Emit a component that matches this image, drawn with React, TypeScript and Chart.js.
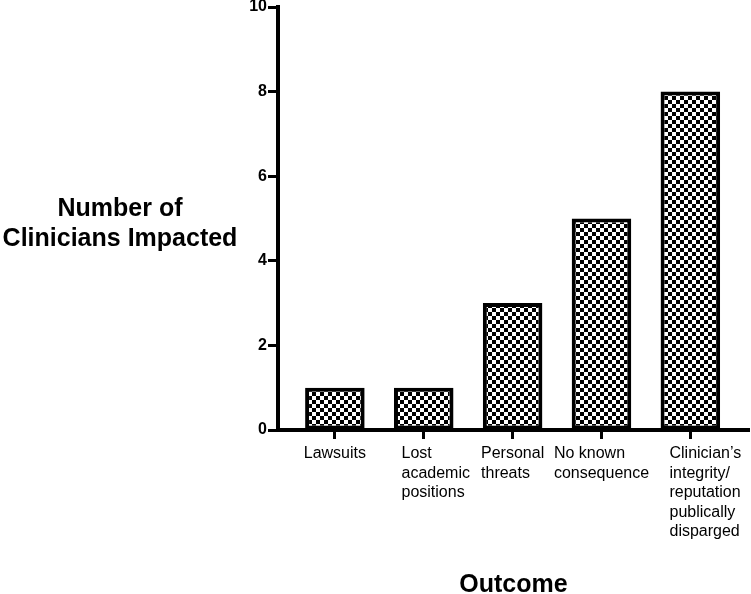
import React, { useEffect, useRef } from 'react';
import { Chart, registerables } from 'chart.js';

Chart.register(...registerables);

// ---- data ----
const categories: string[][] = [
  ['Lawsuits'],
  ['Lost', 'academic', 'positions'],
  ['Personal', 'threats'],
  ['No known', 'consequence'],
  ['Clinician\u2019s', 'integrity/', 'reputation', 'publically', 'disparged'],
];
const cliniciansImpacted: number[] = [1, 1, 3, 5, 8];
const yTickValues: number[] = [0, 2, 4, 6, 8, 10];
const yTitleLines: string[] = ['Number of', 'Clinicians Impacted'];
const xTitleText = 'Outcome';

const FONT = '"Liberation Sans", Arial, Helvetica, sans-serif';
// small horizontal nudges for the left-aligned label blocks (layout only)
const labelNudge = [0, 12, 0, 0, 15];

function makeChecker(): CanvasPattern | string {
  const c = document.createElement('canvas');
  c.width = 8;
  c.height = 8;
  const g = c.getContext('2d');
  if (!g) return '#888';
  g.fillStyle = '#ffffff';
  g.fillRect(0, 0, 8, 8);
  g.fillStyle = '#000000';
  g.fillRect(0, 0, 4, 4);
  g.fillRect(4, 4, 4, 4);
  return g.createPattern(c, 'repeat') || '#888';
}

const textPlugin = {
  id: 'customText',
  afterDraw(chart: any) {
    const ctx: CanvasRenderingContext2D = chart.ctx;
    const xs = chart.scales.x;
    const area = chart.chartArea;
    ctx.save();
    ctx.fillStyle = '#000';
    // x category labels
    ctx.font = `16px ${FONT}`;
    ctx.textAlign = 'left';
    ctx.textBaseline = 'alphabetic';
    categories.forEach((lines, i) => {
      const px = xs.getPixelForValue(i);
      const w = Math.max(...lines.map((l) => ctx.measureText(l).width));
      const left = px - w / 2 + labelNudge[i];
      lines.forEach((l, j) => {
        ctx.fillText(l, left, area.bottom + 28 + j * 19.6);
      });
    });
    // y title (horizontal, two lines)
    ctx.font = `bold 25px ${FONT}`;
    ctx.textAlign = 'center';
    const mid = (area.top + area.bottom) / 2;
    yTitleLines.forEach((l, j) => {
      ctx.fillText(l, 120, mid - 3 + j * 30);
    });
    // x title
    ctx.fillText(xTitleText, (area.left + area.right) / 2, chart.height - 2);
    ctx.restore();
  },
};

export default function App() {
  const ref = useRef<HTMLCanvasElement | null>(null);

  useEffect(() => {
    if (!ref.current) return;
    const pattern = makeChecker();
    const chart = new Chart(ref.current, {
      type: 'bar',
      data: {
        datasets: [
          {
            data: cliniciansImpacted.map((v, i) => ({ x: i, y: v })),
            backgroundColor: pattern as any,
            borderColor: '#000',
            borderWidth: 4,
            borderSkipped: false,
            barPercentage: 0.67,
            categoryPercentage: 1,
          } as any,
        ],
      },
      options: {
        animation: false,
        responsive: false,
        devicePixelRatio: 1,
        layout: { padding: { left: 0, top: 7, right: 2, bottom: 0 } },
        plugins: {
          legend: { display: false },
          tooltip: { enabled: false },
          title: { display: false },
        },
        scales: {
          x: {
            type: 'linear',
            offset: false,
            min: -0.64,
            max: 4.66,
            afterBuildTicks: (s: any) => {
              s.ticks = categories.map((_, i) => ({ value: i }));
            },
            afterFit: (s: any) => {
              s.height = 164;
              s.paddingLeft = 0;
              s.paddingRight = 0;
            },
            ticks: { display: false },
            grid: {
              offset: false,
              drawOnChartArea: false,
              drawTicks: true,
              tickLength: 9,
              tickWidth: 3,
              tickColor: '#000',
            },
            border: { display: true, color: '#000', width: 4 },
          },
          y: {
            type: 'linear',
            min: 0,
            max: 10,
            afterBuildTicks: (s: any) => {
              s.ticks = yTickValues.map((v) => ({ value: v }));
            },
            afterFit: (s: any) => {
              s.width = 278;
              s.paddingTop = 0;
              s.paddingBottom = 0;
            },
            ticks: {
              color: '#000',
              padding: 1,
              font: { family: FONT, size: 16, weight: 'bold' },
            },
            grid: {
              drawOnChartArea: false,
              drawTicks: true,
              tickLength: 10,
              tickWidth: 3,
              tickColor: '#000',
            },
            border: { display: true, color: '#000', width: 4 },
          },
        },
      } as any,
      plugins: [textPlugin],
    });
    return () => chart.destroy();
  }, []);

  return (
    <div style={{ position: 'absolute', left: 0, top: 0, width: 751, height: 594, background: '#fff' }}>
      <canvas ref={ref} width={751} height={594} style={{ display: 'block' }} />
    </div>
  );
}
